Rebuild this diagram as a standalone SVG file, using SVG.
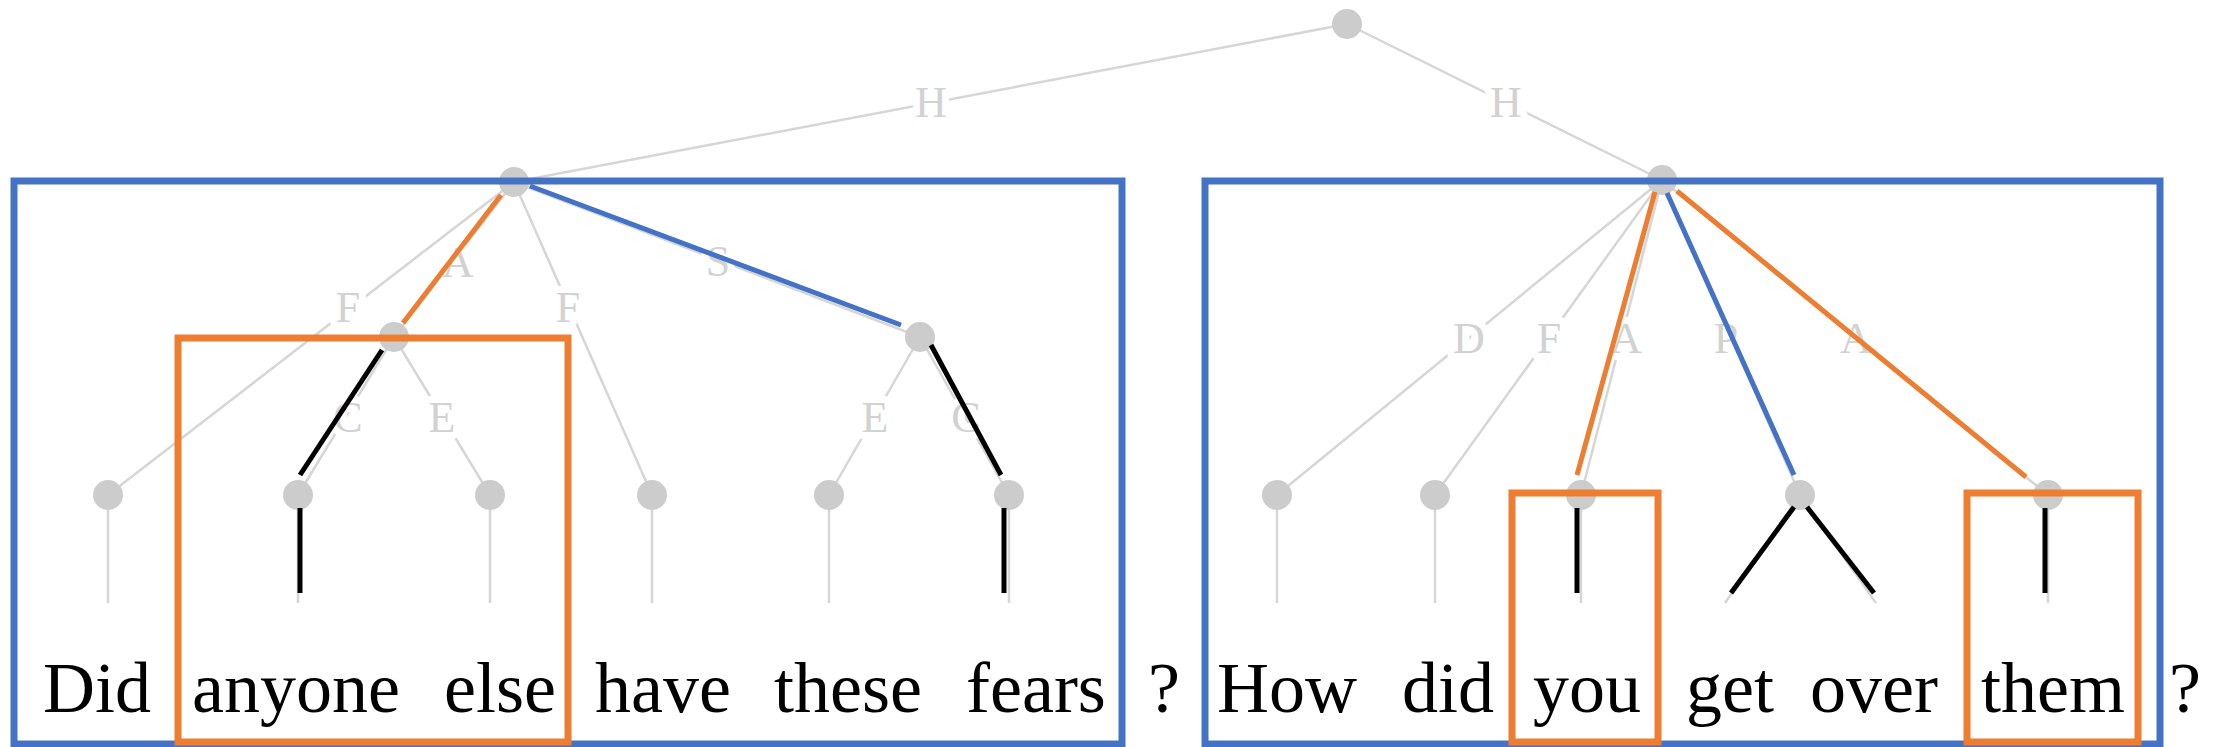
<svg xmlns="http://www.w3.org/2000/svg" width="2228" height="747" viewBox="0 0 2228 747">
<style>
.e{stroke:#d6d6d6;stroke-width:2.5;fill:none}
.lb{font-family:"Liberation Serif",serif;font-size:44px;fill:#d2d2d2;text-anchor:middle;stroke:#fff;stroke-width:14;paint-order:stroke;stroke-linejoin:round}
.n{fill:#cccccc}
.o{stroke:#ED7D31;stroke-width:5;fill:none}
.b{stroke:#4472C4;stroke-width:5;fill:none}
.k{stroke:#000;stroke-width:5;fill:none}
.bx{fill:none;stroke:#4472C4;stroke-width:7}
.ox{fill:none;stroke:#ED7D31;stroke-width:7}
.w{font-family:"Liberation Serif",serif;font-size:72px;fill:#000}
</style>
<g id="connectors">
<g id="gray-edges">
<line class="e" x1="1347" y1="24" x2="514" y2="182"/>
<line class="e" x1="1347" y1="24" x2="1662" y2="180"/>
<line class="e" x1="514" y1="182" x2="108" y2="495"/>
<line class="e" x1="514" y1="182" x2="394" y2="337"/>
<line class="e" x1="514" y1="182" x2="652" y2="495"/>
<line class="e" x1="514" y1="182" x2="920" y2="337"/>
<line class="e" x1="394" y1="337" x2="298" y2="495"/>
<line class="e" x1="394" y1="337" x2="490" y2="495"/>
<line class="e" x1="920" y1="337" x2="829" y2="495"/>
<line class="e" x1="920" y1="337" x2="1009" y2="495"/>
<line class="e" x1="108" y1="495" x2="108" y2="603"/>
<line class="e" x1="298" y1="495" x2="298" y2="603"/>
<line class="e" x1="490" y1="495" x2="490" y2="603"/>
<line class="e" x1="652" y1="495" x2="652" y2="603"/>
<line class="e" x1="829" y1="495" x2="829" y2="603"/>
<line class="e" x1="1009" y1="495" x2="1009" y2="603"/>
<line class="e" x1="1662" y1="180" x2="1277" y2="495"/>
<line class="e" x1="1662" y1="180" x2="1435" y2="495"/>
<line class="e" x1="1662" y1="180" x2="1581" y2="495"/>
<line class="e" x1="1662" y1="180" x2="1800" y2="495"/>
<line class="e" x1="1662" y1="180" x2="2048" y2="495"/>
<line class="e" x1="1277" y1="495" x2="1277" y2="603"/>
<line class="e" x1="1435" y1="495" x2="1435" y2="603"/>
<line class="e" x1="1581" y1="495" x2="1581" y2="603"/>
<line class="e" x1="2048" y1="495" x2="2048" y2="603"/>
<line class="e" x1="1800" y1="495" x2="1725" y2="603"/>
<line class="e" x1="1800" y1="495" x2="1876" y2="603"/>
</g>
<g id="edge-labels">
<text class="lb" x="931" y="117">H</text>
<text class="lb" x="1506" y="117">H</text>
<text class="lb" x="458" y="277">A</text>
<text class="lb" x="718" y="276">S</text>
<text class="lb" x="348" y="322">F</text>
<text class="lb" x="568" y="322">F</text>
<text class="lb" x="348" y="432">C</text>
<text class="lb" x="442" y="432">E</text>
<text class="lb" x="875" y="432">E</text>
<text class="lb" x="966" y="432">C</text>
<text class="lb" x="1469" y="353">D</text>
<text class="lb" x="1549" y="353">F</text>
<text class="lb" x="1626" y="353">A</text>
<text class="lb" x="1726" y="353">P</text>
<text class="lb" x="1856" y="353">A</text>
</g>
</g>
<g id="nodes">
<g id="root"><circle class="n" cx="1347" cy="24" r="15"/></g>
<g id="s1"><circle class="n" cx="514" cy="182" r="15"/></g>
<g id="s2"><circle class="n" cx="1662" cy="180" r="15"/></g>
<g id="c1"><circle class="n" cx="394" cy="337" r="15"/></g>
<g id="c2"><circle class="n" cx="920" cy="337" r="15"/></g>
<g id="t1"><circle class="n" cx="108" cy="495" r="15"/></g>
<g id="t2"><circle class="n" cx="298" cy="495" r="15"/></g>
<g id="t3"><circle class="n" cx="490" cy="495" r="15"/></g>
<g id="t4"><circle class="n" cx="652" cy="495" r="15"/></g>
<g id="t5"><circle class="n" cx="829" cy="495" r="15"/></g>
<g id="t6"><circle class="n" cx="1009" cy="495" r="15"/></g>
<g id="t7"><circle class="n" cx="1277" cy="495" r="15"/></g>
<g id="t8"><circle class="n" cx="1435" cy="495" r="15"/></g>
<g id="t9"><circle class="n" cx="1581" cy="495" r="15"/></g>
<g id="t10"><circle class="n" cx="1800" cy="495" r="15"/></g>
<g id="t11"><circle class="n" cx="2048" cy="495" r="15"/></g>
</g>
<g id="highlight-edges">
<line class="o" x1="501" y1="195" x2="403" y2="323"/>
<line class="b" x1="530" y1="186" x2="901" y2="325"/>
<line class="o" x1="1655" y1="192" x2="1577" y2="475"/>
<line class="b" x1="1667" y1="193" x2="1794" y2="475"/>
<line class="o" x1="1677" y1="191" x2="2026" y2="477"/>
<line class="k" x1="382" y1="350" x2="300" y2="475"/>
<line class="k" x1="300" y1="508" x2="300" y2="593"/>
<line class="k" x1="931" y1="345" x2="1001" y2="475"/>
<line class="k" x1="1004" y1="508" x2="1004" y2="593"/>
<line class="k" x1="1577" y1="508" x2="1577" y2="593"/>
<line class="k" x1="1794" y1="507" x2="1731" y2="593"/>
<line class="k" x1="1807" y1="507" x2="1874" y2="593"/>
<line class="k" x1="2045" y1="508" x2="2045" y2="593"/>
</g>
<g id="boxes">
<rect class="bx" x="14" y="181" width="1108" height="563"/>
<rect class="bx" x="1205" y="181" width="955" height="563"/>
<rect class="ox" x="178" y="338" width="390" height="404"/>
<rect class="ox" x="1512" y="493" width="146" height="249"/>
<rect class="ox" x="1967" y="493" width="171" height="249"/>
</g>
<g id="words">
<text class="w" x="43" y="712">Did</text>
<text class="w" x="192" y="712">anyone</text>
<text class="w" x="444" y="712">else</text>
<text class="w" x="595" y="712">have</text>
<text class="w" x="774" y="712">these</text>
<text class="w" x="966" y="712">fears</text>
<text class="w" x="1148" y="712">?</text>
<text class="w" x="1217" y="712">How</text>
<text class="w" x="1402" y="712">did</text>
<text class="w" x="1533" y="712">you</text>
<text class="w" x="1686" y="712">get</text>
<text class="w" x="1810" y="712">over</text>
<text class="w" x="1981" y="712">them</text>
<text class="w" x="2169" y="712">?</text>
</g>
</svg>
